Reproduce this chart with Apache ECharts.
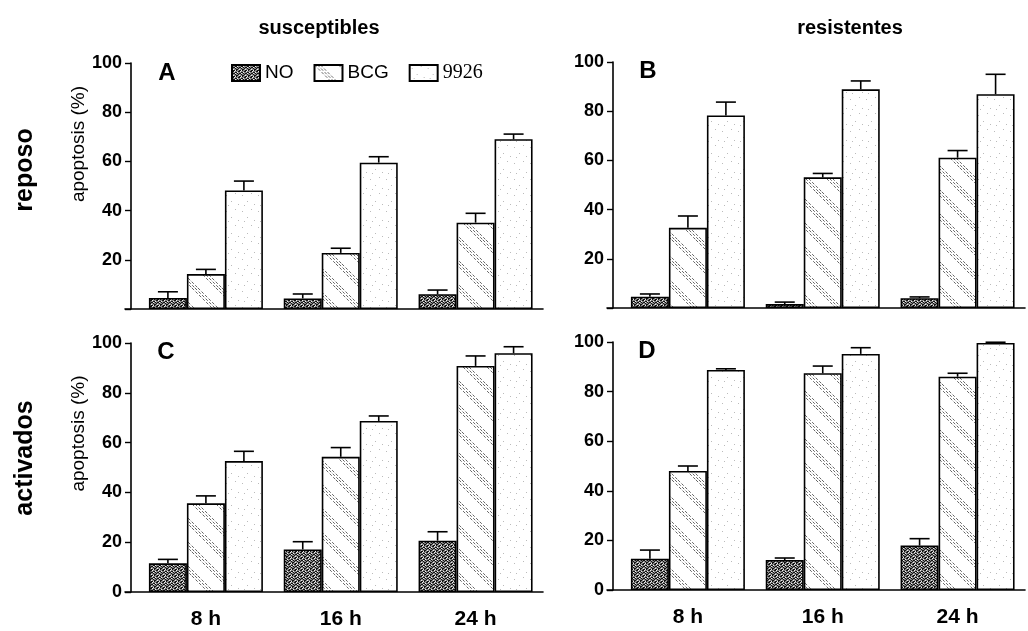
<!DOCTYPE html>
<html>
<head>
<meta charset="utf-8">
<script src="https://cdn.jsdelivr.net/npm/echarts@6/dist/echarts.min.js"></script>
<style>
  html, body { margin: 0; padding: 0; background: #fff; }
  #chart { width: 1028px; height: 631px; }
</style>
</head>
<body>
<div id="chart"></div>
<script>
// time points (x categories)
const hours = ["8 h", "16 h", "24 h"];
const groups = ["NO", "BCG", "9926"];
const yTicks = [0, 20, 40, 60, 80, 100];

// A: susceptibles / reposo
const noA = [4.5, 4.3, 6.0];
const noAErr = [2.5, 1.8, 1.7];
const bcgA = [14.2, 22.8, 35.1];
const bcgAErr = [1.9, 1.9, 3.8];
const strA = [48.2, 59.5, 69.0];
const strAErr = [3.8, 2.4, 2.1];

// B: resistentes / reposo
const noB = [4.6, 1.6, 4.0];
const noBErr = [1.1, 0.8, 0.5];
const bcgB = [32.6, 53.1, 61.1];
const bcgBErr = [4.8, 1.6, 2.9];
const strB = [78.3, 88.9, 86.9];
const strBErr = [5.4, 3.4, 8.1];

// C: susceptibles / activados
const noC = [11.5, 17.1, 20.6];
const noCErr = [1.6, 3.1, 3.6];
const bcgC = [35.6, 54.3, 90.8];
const bcgCErr = [3.0, 3.7, 4.0];
const strC = [52.6, 68.7, 95.9];
const strCErr = [3.9, 2.0, 2.6];

// D: resistentes / activados
const noD = [12.6, 12.1, 17.9];
const noDErr = [3.5, 0.8, 2.8];
const bcgD = [48.0, 87.4, 86.0];
const bcgDErr = [2.0, 2.9, 1.4];
const strD = [88.7, 95.2, 99.6];
const strDErr = [0.5, 2.5, 0.3];

const SANS = "Liberation Sans, Arial, Helvetica, sans-serif";
const BAR_W = 38;

// fill textures
function tile(w, h, draw) {
  const c = document.createElement("canvas");
  c.width = w; c.height = h;
  draw(c.getContext("2d"));
  return c;
}
const noTile = tile(6, 6, g => {
  g.fillStyle = "#8a8a8a"; g.fillRect(0, 0, 6, 6);
  g.fillStyle = "#111";
  [[0,0],[1,0],[3,1],[4,1],[1,2],[2,2],[5,2],[0,3],[3,3],[4,4],[5,4],[1,5],[2,5],[4,5]]
    .forEach(p => g.fillRect(p[0], p[1], 1, 1));
  g.fillStyle = "#eee";
  [[2,0],[5,1],[3,2],[1,4],[3,5]].forEach(p => g.fillRect(p[0], p[1], 1, 1));
});
const bcgTile = tile(24, 24, g => {
  g.fillStyle = "#fff"; g.fillRect(0, 0, 24, 24);
  g.strokeStyle = "#666"; g.lineWidth = 1;
  g.setLineDash([3, 2]);
  [0, 3, 6].forEach(c => {
    [-24, 0, 24].forEach(s => {
      g.beginPath(); g.moveTo(c + s, 0); g.lineTo(c + s + 24, 24); g.stroke();
    });
  });
});
const strTile = tile(16, 16, g => {
  g.fillStyle = "#fff"; g.fillRect(0, 0, 16, 16);
  g.fillStyle = "#bbb";
  [[2,3],[11,1],[7,9],[14,12],[4,13]].forEach(p => g.fillRect(p[0], p[1], 1, 1));
});
const fills = [
  { image: noTile, repeat: "repeat" },
  { image: bcgTile, repeat: "repeat" },
  { image: strTile, repeat: "repeat" },
];

const panels = [
  { left: 125, top: 63, height: 246, name: true, xlab: false, zero: false, data: [[noA, noAErr], [bcgA, bcgAErr], [strA, strAErr]] },
  { left: 607, top: 62, height: 246, name: false, xlab: false, zero: false, data: [[noB, noBErr], [bcgB, bcgBErr], [strB, strBErr]] },
  { left: 125, top: 343, height: 249, name: true, xlab: true, zero: true, data: [[noC, noCErr], [bcgC, bcgCErr], [strC, strCErr]] },
  { left: 607, top: 342, height: 248, name: false, xlab: true, zero: true, data: [[noD, noDErr], [bcgD, bcgDErr], [strD, strDErr]] },
];

function errRender(shift) {
  return function (params, api) {
    const x = api.value(0), v = api.value(1), e = api.value(2);
    const top = api.coord([x, v]);
    const hi = api.coord([x, v + e]);
    const cx = top[0] + shift;
    const st = { stroke: "#000", lineWidth: 1.6 };
    return {
      type: "group",
      children: [
        { type: "line", shape: { x1: cx, y1: top[1], x2: cx, y2: hi[1] }, style: st },
        { type: "line", shape: { x1: cx - 10, y1: hi[1], x2: cx + 10, y2: hi[1] }, style: st },
      ],
    };
  };
}

const grid = [], xAxis = [], yAxis = [], series = [];
panels.forEach((p, i) => {
  grid.push({ left: p.left, top: p.top, width: 418, height: p.height, outerBoundsMode: "none", containLabel: false });
  xAxis.push({
    type: "value", gridIndex: i, min: -0.6, max: 2.5,
    axisLine: { onZero: false, lineStyle: { color: "#000", width: 1.6 } },
    axisTick: { show: false },
    splitLine: { show: false },
    axisLabel: {
      show: p.xlab, customValues: [0, 1, 2], margin: 17,
      formatter: v => hours[v] || "",
      color: "#000", fontFamily: SANS, fontWeight: "bold", fontSize: 21,
    },
  });
  yAxis.push({
    type: "value", gridIndex: i, min: 0, max: 100, interval: 20, offset: -6,
    name: p.name ? "apoptosis (%)" : "",
    nameLocation: "middle", nameRotate: 90, nameGap: 35,
    nameTextStyle: { color: "#000", fontFamily: SANS, fontSize: 19, padding: [0, 0, 0, i === 0 ? 84 : 68] },
    axisLine: { show: true, onZero: false, lineStyle: { color: "#000", width: 1.6 } },
    axisTick: { show: true, inside: false, length: 6, lineStyle: { color: "#000", width: 1.4 } },
    splitLine: { show: false },
    axisLabel: {
      margin: 9, color: "#000", fontFamily: SANS, fontWeight: "bold", fontSize: 18,
      formatter: v => (v === 0 && !p.zero ? "" : String(v)),
    },
  });
  p.data.forEach((d, k) => {
    series.push({
      name: groups[k], type: "bar", xAxisIndex: i, yAxisIndex: i,
      barWidth: BAR_W, barGap: "0%",
      itemStyle: { color: fills[k], borderColor: "#000", borderWidth: 1.6 },
      emphasis: { disabled: true },
      data: d[0].map((v, j) => [j, v]),
    });
  });
  p.data.forEach((d, k) => {
    series.push({
      name: groups[k] + " err", type: "custom", xAxisIndex: i, yAxisIndex: i, z: 5,
      renderItem: errRender((k - 1) * BAR_W),
      data: d[0].map((v, j) => [j, v, d[1][j]]),
    });
  });
});

const chart = echarts.init(document.getElementById("chart"), null, { renderer: "canvas" });
chart.setOption({
  backgroundColor: "#fff",
  animation: false,
  grid, xAxis, yAxis, series,
  legend: {
    data: groups, left: 226, top: 58, itemWidth: 28, itemHeight: 16, itemGap: 20,
    icon: "rect", selectedMode: false,
    textStyle: { color: "#000", fontFamily: SANS, fontSize: 19, rich: { s: { fontFamily: "Liberation Serif, Times New Roman, serif", fontSize: 20, color: "#000" } } },
    formatter: n => (n === "9926" ? "{s|9926}" : n),
  },
  graphic: [
    { type: "text", x: 319, y: 28, style: { text: "susceptibles", font: "bold 20px " + SANS, fill: "#000", align: "center", verticalAlign: "middle" } },
    { type: "text", x: 850, y: 28, style: { text: "resistentes", font: "bold 20px " + SANS, fill: "#000", align: "center", verticalAlign: "middle" } },
    { type: "text", x: 25, y: 170, rotation: Math.PI / 2, style: { text: "reposo", font: "bold 25px " + SANS, fill: "#000", align: "center", verticalAlign: "middle" } },
    { type: "text", x: 25, y: 458, rotation: Math.PI / 2, style: { text: "activados", font: "bold 25px " + SANS, fill: "#000", align: "center", verticalAlign: "middle" } },
    { type: "text", x: 167, y: 73, style: { text: "A", font: "bold 24px " + SANS, fill: "#000", align: "center", verticalAlign: "middle" } },
    { type: "text", x: 648, y: 71, style: { text: "B", font: "bold 24px " + SANS, fill: "#000", align: "center", verticalAlign: "middle" } },
    { type: "text", x: 166, y: 352, style: { text: "C", font: "bold 24px " + SANS, fill: "#000", align: "center", verticalAlign: "middle" } },
    { type: "text", x: 647, y: 351, style: { text: "D", font: "bold 24px " + SANS, fill: "#000", align: "center", verticalAlign: "middle" } },
  ],
});
</script>
</body>
</html>
